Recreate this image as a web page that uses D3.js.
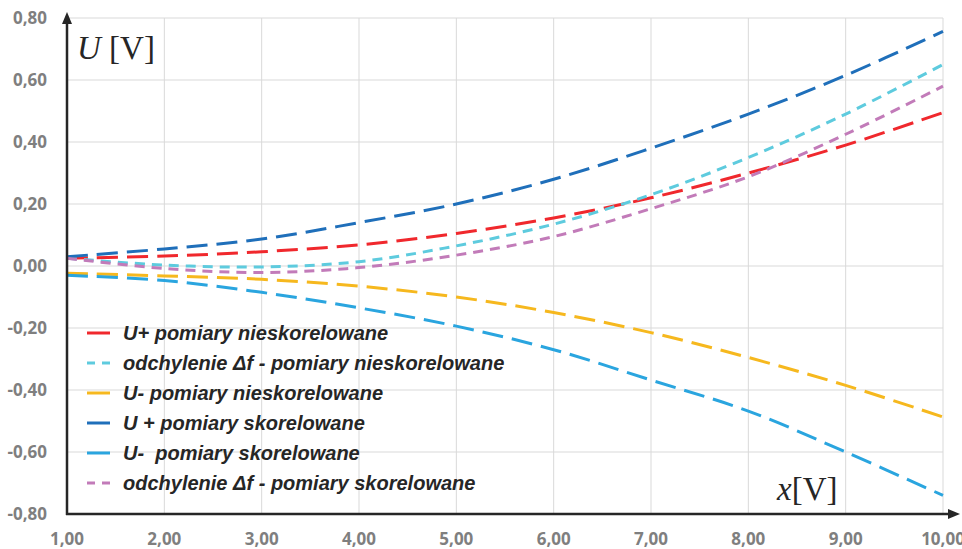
<!DOCTYPE html>
<html>
<head>
<meta charset="utf-8">
<script src="https://cdn.jsdelivr.net/npm/d3@7"></script>
<style>
  body { margin: 0; background: #fff; }
  svg { display: block; }
  .tick-label { font-family: "Open Sans", sans-serif; font-weight: 700; font-size: 17px; fill: #7f7f7f; }
  .legend-text { font-family: "Liberation Sans", Arial, sans-serif; font-weight: 700; font-style: italic; font-size: 20px; fill: #262626; white-space: pre; }
  .axis-title { font-family: "Liberation Serif", "Times New Roman", serif; font-size: 33px; fill: #262626; }
</style>
</head>
<body>
<svg id="chart" width="962" height="549"></svg>
<script>
const xValues = [1, 2, 3, 4, 5, 6, 7, 8, 9, 10];

const uPlusUncorr   = [0.025, 0.032, 0.046, 0.068, 0.105, 0.155, 0.22, 0.30, 0.39, 0.495];
const dfUncorr      = [0.025, 0.003, -0.003, 0.014, 0.065, 0.135, 0.23, 0.35, 0.49, 0.65];
const uMinusUncorr  = [-0.023, -0.032, -0.043, -0.065, -0.10, -0.15, -0.215, -0.295, -0.385, -0.487];
const uPlusCorr     = [0.03, 0.055, 0.087, 0.14, 0.20, 0.28, 0.38, 0.49, 0.615, 0.757];
const uMinusCorr    = [-0.03, -0.047, -0.085, -0.135, -0.194, -0.27, -0.368, -0.468, -0.60, -0.74];
const dfCorr        = [0.025, -0.008, -0.021, -0.005, 0.035, 0.095, 0.185, 0.288, 0.425, 0.58];

const seriesNames = [
  'U+ pomiary nieskorelowane',
  'odchylenie \u0394f - pomiary nieskorelowane',
  'U- pomiary nieskorelowane',
  'U + pomiary skorelowane',
  'U-  pomiary skorelowane',
  'odchylenie \u0394f - pomiary skorelowane'
];
const seriesValues = [uPlusUncorr, dfUncorr, uMinusUncorr, uPlusCorr, uMinusCorr, dfCorr];
const seriesColors = ['#f0282d', '#5ecbde', '#f6b81e', '#1f6fba', '#2aa5df', '#c27bb9'];
const seriesShort = [false, true, false, false, false, true];

const xTicks = [1, 2, 3, 4, 5, 6, 7, 8, 9, 10];
const yTicks = [-0.8, -0.6, -0.4, -0.2, 0, 0.2, 0.4, 0.6, 0.8];

const plotLeft = 67, plotRight = 943, plotTop = 18, plotBottom = 514;

const locale = d3.formatLocale({ decimal: ',', thousands: ' ', grouping: [3], currency: ['', ''], minus: '-' });
const fmt = locale.format('.2f');

const svg = d3.select('#chart');
const x = d3.scaleLinear().domain([1, 10]).range([plotLeft, plotRight]);
const y = d3.scaleLinear().domain([-0.8, 0.8]).range([plotBottom, plotTop]);

// gridlines
const grid = svg.append('g');
grid.selectAll('line.v')
  .data(xTicks.slice(1))
  .enter().append('line')
  .attr('x1', d => x(d)).attr('x2', d => x(d))
  .attr('y1', plotTop).attr('y2', plotBottom)
  .attr('stroke', '#d9d9d9').attr('stroke-width', 1);
grid.selectAll('line.h')
  .data(yTicks.slice(1))
  .enter().append('line')
  .attr('x1', plotLeft).attr('x2', plotRight)
  .attr('y1', d => y(d)).attr('y2', d => y(d))
  .attr('stroke', '#d9d9d9').attr('stroke-width', 1);

// tick labels
svg.append('g').selectAll('text')
  .data(yTicks)
  .enter().append('text')
  .attr('class', 'tick-label')
  .attr('x', 47)
  .attr('y', d => y(d))
  .attr('dy', '0.36em')
  .attr('text-anchor', 'end')
  .text(d => fmt(d));

svg.append('g').selectAll('text')
  .data(xTicks)
  .enter().append('text')
  .attr('class', 'tick-label')
  .attr('x', d => x(d))
  .attr('y', 545)
  .attr('text-anchor', 'middle')
  .text(d => fmt(d));

// series
const line = d3.line()
  .x((d, i) => x(xValues[i]))
  .y(d => y(d))
  .curve(d3.curveCatmullRom.alpha(0.5));

const lines = svg.append('g');
seriesValues.forEach((vals, i) => {
  lines.append('path')
    .datum(vals)
    .attr('d', line)
    .attr('fill', 'none')
    .attr('stroke', seriesColors[i])
    .attr('stroke-width', 3)
    .attr('stroke-dasharray', seriesShort[i] ? '10,7' : '21,9');
});

// axes with arrows
const axisColor = '#262626';
svg.append('line')
  .attr('x1', plotLeft).attr('x2', plotLeft)
  .attr('y1', plotBottom + 1).attr('y2', 20)
  .attr('stroke', axisColor).attr('stroke-width', 2.5);
svg.append('path')
  .attr('d', `M${plotLeft},12 L${plotLeft - 5},24 L${plotLeft + 5},24 Z`)
  .attr('fill', axisColor);
svg.append('line')
  .attr('x1', plotLeft - 1).attr('x2', 950)
  .attr('y1', plotBottom).attr('y2', plotBottom)
  .attr('stroke', axisColor).attr('stroke-width', 2.5);
svg.append('path')
  .attr('d', `M960,${plotBottom} L948,${plotBottom - 5} L948,${plotBottom + 5} Z`)
  .attr('fill', axisColor);

// axis titles
const ty = svg.append('text').attr('class', 'axis-title').attr('x', 77).attr('y', 59);
ty.append('tspan').attr('font-style', 'italic').text('U');
ty.append('tspan').text(' [V]');

const tx = svg.append('text').attr('class', 'axis-title').attr('x', 777).attr('y', 500);
tx.append('tspan').attr('font-style', 'italic').text('x');
tx.append('tspan').text('[V]');

// legend
const legend = svg.append('g');
seriesNames.forEach((name, i) => {
  const ly = 333 + i * 30;
  if (seriesShort[i]) {
    [[87, 95], [102, 110]].forEach(([a, b]) => {
      legend.append('line')
        .attr('x1', a).attr('x2', b).attr('y1', ly).attr('y2', ly)
        .attr('stroke', seriesColors[i]).attr('stroke-width', 3);
    });
  } else {
    legend.append('line')
      .attr('x1', 87).attr('x2', 110).attr('y1', ly).attr('y2', ly)
      .attr('stroke', seriesColors[i]).attr('stroke-width', 3);
  }
  legend.append('text')
    .attr('class', 'legend-text')
    .attr('x', 123)
    .attr('y', ly)
    .attr('dy', '0.35em')
    .text(name);
});
</script>
</body>
</html>
